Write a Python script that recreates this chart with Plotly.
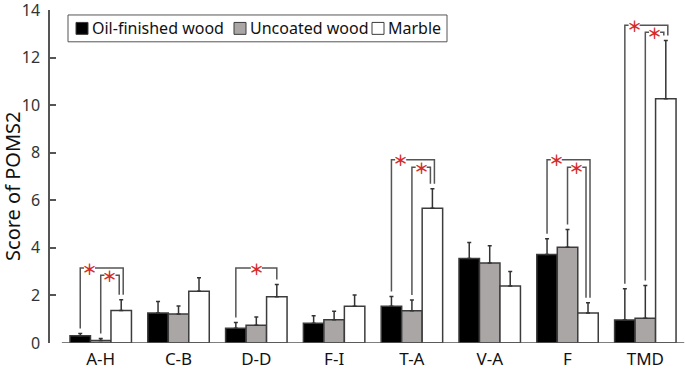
import plotly.graph_objects as go

# ---------------- data ----------------
categories = ["A-H", "C-B", "D-D", "F-I", "T-A", "V-A", "F", "TMD"]
series_names = ["Oil-finished wood", "Uncoated wood", "Marble"]
oil_mean = [0.30, 1.26, 0.62, 0.83, 1.55, 3.55, 3.72, 0.97]
oil_err = [0.10, 0.49, 0.24, 0.32, 0.40, 0.68, 0.66, 1.31]
unc_mean = [0.10, 1.22, 0.75, 0.98, 1.36, 3.36, 4.03, 1.04]
unc_err = [0.09, 0.34, 0.34, 0.36, 0.45, 0.73, 0.74, 1.38]
mar_mean = [1.37, 2.18, 1.94, 1.55, 5.67, 2.40, 1.26, 10.27]
mar_err = [0.45, 0.56, 0.52, 0.47, 0.81, 0.61, 0.43, 2.45]

# significance brackets: category, from-series index, to-series index, bracket level
sig_cat = ["A-H", "A-H", "D-D", "T-A", "T-A", "F", "F", "TMD", "TMD"]
sig_from = [0, 1, 0, 0, 1, 0, 1, 0, 1]
sig_to = [2, 2, 2, 2, 2, 2, 2, 2, 2]
sig_level = [3.15, 2.85, 3.15, 7.70, 7.39, 7.70, 7.39, 13.36, 13.06]

y_ticks = [0, 2, 4, 6, 8, 10, 12, 14]
y_title = "Score of POMS2"

# ---------------- styling ----------------
W, H = 685, 370
ML, MR, MT, MB = 50, 0, 10, 25
XR = [-0.652, 7.51]
YR = [0, 14.0001]
bar_colors = ["#000000", "#aaa6a5", "#ffffff"]
edge = "#3c3c3c"
axis_col = "#555555"
bargap = 0.21
FONT = "Noto Sans"

means = [oil_mean, unc_mean, mar_mean]
errs = [oil_err, unc_err, mar_err]
xs = list(range(len(categories)))

fig = go.Figure()
for name, m, e, c in zip(series_names, means, errs, bar_colors):
    fig.add_trace(go.Bar(
        x=xs, y=m, name=name, showlegend=False,
        marker=dict(color=c, line=dict(color=edge, width=1.5)),
        error_y=dict(type="data", array=e, symmetric=False,
                     arrayminus=[0] * len(e), color="#333333",
                     thickness=1.5, width=2),
    ))

plot_w = W - ML - MR
plot_h = H - MT - MB
px_x = (XR[1] - XR[0]) / plot_w  # data units per pixel in x
bw = (1 - bargap) / 3.0
offsets = [-bw, 0.0, bw]

def pxx(p):
    return (p - ML) / plot_w
def pxy(p):
    return (H - MB - p) / plot_h

shapes = []
annotations = []

# x axis baseline
shapes.append(dict(type="line", xref="x", yref="y", x0=-0.5, x1=7.5, y0=0, y1=0,
                   line=dict(color=axis_col, width=1.5), layer="above"))

# brackets
gap_y = 0.21
half_gap = 5.5 * px_x
group_count = {c: sig_cat.count(c) for c in sig_cat}
for cat, a, b, lvl in zip(sig_cat, sig_from, sig_to, sig_level):
    i = categories.index(cat)
    two = group_count[cat] > 1
    xa = i + offsets[a]
    if two:
        xb = i + offsets[b] + (2 * px_x if a == 0 else -2 * px_x)
        xstar = i + (offsets[a] + offsets[a + 1]) / 2 - 1 * px_x
    else:
        xb = i + offsets[b]
        xstar = (xa + xb) / 2
    ya = means[a][i] + errs[a][i] + gap_y
    yb = means[b][i] + errs[b][i] + gap_y
    path = (f"M {xa},{ya} L {xa},{lvl} L {xstar - half_gap},{lvl} "
            f"M {xstar + half_gap},{lvl} L {xb},{lvl} L {xb},{yb}")
    shapes.append(dict(type="path", xref="x", yref="y", path=path,
                       line=dict(color=axis_col, width=1.5)))
    annotations.append(dict(x=xstar, y=lvl, xref="x", yref="y", text="<b>＊</b>",
                            showarrow=False, xanchor="center", yanchor="middle",
                            font=dict(family="Noto Sans CJK JP", size=15, color="#d42a2a")))

# manual legend
shapes.append(dict(type="rect", xref="paper", yref="paper",
                   x0=pxx(68), x1=pxx(447), y0=pxy(42), y1=pxy(15),
                   line=dict(color=axis_col, width=1), fillcolor="white"))
sq_left = [76, 234, 372]
for name, c, sx in zip(series_names, bar_colors, sq_left):
    shapes.append(dict(type="rect", xref="paper", yref="paper",
                       x0=pxx(sx), x1=pxx(sx + 12), y0=pxy(34.5), y1=pxy(22.5),
                       line=dict(color=edge, width=1), fillcolor=c))
    annotations.append(dict(x=pxx(sx + 14), y=pxy(28.5), xref="paper", yref="paper",
                            text=name, showarrow=False, xanchor="left", yanchor="middle",
                            font=dict(family=FONT, size=16, color="#111111")))

# y axis title
annotations.append(dict(x=pxx(13), y=pxy(188), xref="paper", yref="paper",
                        text=y_title, textangle=-90, showarrow=False,
                        xanchor="center", yanchor="middle",
                        font=dict(family=FONT, size=20, color="#111111")))

fig.update_layout(
    width=W, height=H,
    margin=dict(l=ML, r=MR, t=MT, b=MB, pad=0),
    paper_bgcolor="white", plot_bgcolor="white",
    barmode="group", bargap=bargap, bargroupgap=0,
    shapes=shapes, annotations=annotations,
    font=dict(family=FONT),
    xaxis=dict(range=XR, tickvals=xs, ticktext=categories, showline=False,
               showgrid=False, zeroline=False, ticks="", ticklabelstandoff=4,
               tickfont=dict(family=FONT, size=17, color="#111111")),
    yaxis=dict(range=YR, tickvals=y_ticks, showline=True, linecolor=axis_col,
               linewidth=1.5, ticks="inside", ticklen=6, tickwidth=1.5,
               tickcolor=axis_col, showgrid=False, zeroline=False,
               ticklabelstandoff=5, ticklabeloverflow="allow",
               tickfont=dict(family=FONT, size=16, color="#333333"),
               automargin=False),
)

fig.write_html("out.html", config={"displayModeBar": False},
               post_script="document.body.style.margin='0';")
